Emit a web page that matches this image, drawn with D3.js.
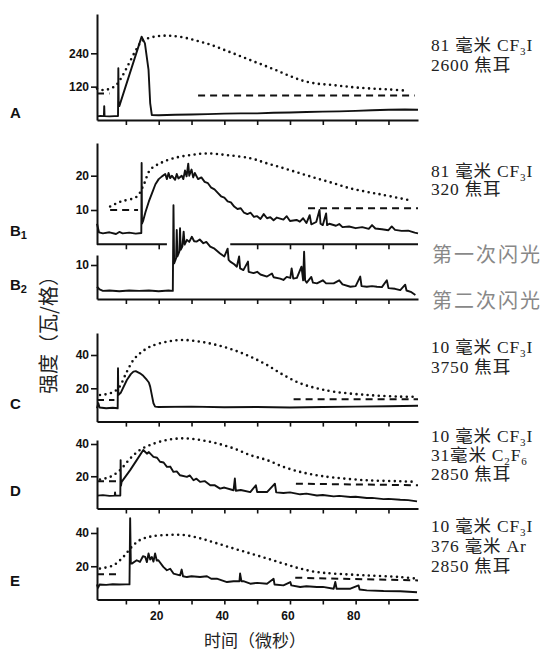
<!DOCTYPE html>
<html>
<head>
<meta charset="utf-8">
<script src="https://cdn.jsdelivr.net/npm/d3@7"></script>
<style>
  body { margin: 0; background: #fff; }
  .tick text { font-family: "Liberation Sans", Arial, sans-serif; font-weight: bold; font-size: 12px; fill: #111; }
</style>
</head>
<body>
<svg id="chart" width="552" height="651"></svg>
<script>
// time axis (microseconds)
var timeTicks = [10, 20, 30, 40, 50, 60, 70, 80, 90];
var timeLabels = [20, 40, 60, 80];

// A : 81 mm CF3I, 2600 J
var aTicks = [120, 240];
var aSolid = [[1.2,14],[1.8,14],[2.2,15],[3.3,14],[3.4,50],[3.5,14],[5,13],[6.5,14],[7.6,14],[7.7,186],[7.8,50],
  [8,50],[14.8,300],[15.8,276],[16.9,180],[17.4,61],[17.9,18],[20,17],[25,19],[30,20],[35,21],[40,23],[45,24],
  [50,24],[55,26],[60,27],[65,29],[70,30],[75,31],[80,33],[85,35],[90,37],[95,38],[99,37]];
var aDotted = [[1.2,113],[3,108],[5,112],[7,125],[9,160],[11,205],[13,250],[15,285],[18,298],[21,303],[24,303],
  [28,296],[32,284],[36,270],[40,252],[44,234],[48,215],[52,197],[56,178],[60,158],[64,141],[68,131],[72,127],
  [76,122],[80,117],[85,113],[90,110],[96,105]];
var aDashed = [[[1.2,95],[5,95]], [[32,88],[98,88]]];

// B1 : 81 mm CF3I, 320 J, first flash
var b1Ticks = [10, 20];
var b1Solid = [[1.2,6],[1.8,3.5],[3,3.2],[5,3.5],[7,3.0],[8,3.6],[9,3.2],[11,3.4],[13,3.1],[14.7,3.3],
  [14.8,23.7],[14.9,6],[15.3,7],[16,9.5],[17,12.5],[18,15],[19,17.5],[20,19],[21,19.8],[22,20.5],[22.5,19],
  [23,20.8],[23.5,19.3],[24,20],[25,18.8],[25.5,20.5],[26,19.2],[27,20],[27.5,19],[28,21.5],[28.5,19.8],
  [29,23.5],[29.3,20],[30,21.8],[30.5,19.5],[31,20.8],[32,19],[33,19.5],[34,18.2],[35,17.8],[36,16.5],
  [37,16],[38,15],[39,14],[40,13.6],[41,12.5],[42,12.2],[43,11],[44,10.3],[45,10.5],[46,9.2],[47,8.8],
  [48,9.2],[49,8],[50,8.2],[51,7.4],[52,8.8],[53,7.6],[54,7.9],[55,7],[56,7.8],[58,7.2],[59,8.2],[60,6.8],
  [62,7.1],[63,6.6],[64,7.6],[65,6.2],[66,8.5],[66.5,5.8],[68,6.5],[69,10],[69.3,6],[70,5.6],[71,9],
  [71.3,5.6],[72,6],[74,5.4],[75,5.9],[76,5],[78,5.2],[80,4.7],[82,5],[84,4.5],[85,5.6],[86,4.6],[88,4.4],
  [90,4.1],[91,5.2],[92,4.2],[94,3.9],[96,4],[98,3.4],[99,3.2]];
var b1Dotted = [[5.2,11],[8.3,12.4],[13.3,13.9],[15.4,17.3],[17.4,21.7],[20.4,23.6],[24.5,25.1],[29.6,26],
  [34.7,26.5],[40.8,26],[47.9,25.1],[53,23.6],[58,22.2],[63.1,20.7],[68.2,19.2],[73.3,17.8],[78.4,16.3],
  [83.4,15.3],[88.5,14.4],[96.1,12.9]];
var b1Dashed = [[[5.2,10],[13.7,10]], [[65.5,10.5],[99,10.5]]];

// B2 : second flash
var b2Ticks = [10];
var b2Solid = [[1.2,3.6],[2,2.8],[3,2.4],[5,2.5],[8,2.3],[11,2.5],[14,2.4],[17,2.5],[20,2.3],[23,2.5],
  [24.3,2.4],[24.5,27.6],[24.7,10.5],[25.3,12],[25.5,20.3],[25.7,12.5],[26.3,14],[26.5,20.8],[26.7,14.5],
  [27.2,15.4],[27.6,19.8],[27.9,16],[28.6,17.4],[29.3,16.8],[30.1,18.3],[30.8,17],[31.6,16.9],[32.5,17.5],
  [33.6,16.4],[34.5,16.8],[35.7,15.4],[37,14.8],[38.7,13.4],[40,12.5],[41,14.8],[41.3,11.5],[41.8,11],
  [43,10.2],[43.8,9.5],[44.5,12.5],[44.8,9],[45.8,8.5],[47.2,11],[47.4,8],[48.9,7.6],[50,8],[51,7.2],
  [53,6.6],[54.5,7.5],[55,6.4],[57,6],[58,5.6],[59,6.5],[60.1,6.2],[60.5,9],[61,6],[62.1,6.2],[63.5,9.5],
  [64,5.5],[64.3,13.9],[64.6,5.5],[65.1,4.8],[66.5,6.5],[67,4.8],[68.2,4.6],[70,5.5],[71,4.6],[73.3,4.6],
  [75,5.5],[76,4.3],[78.4,3.6],[80,3.8],[81.4,6.6],[81.8,3.8],[83.4,3.6],[85,3.8],[86.5,3.6],[88,3.5],
  [89.5,5.5],[90,3.2],[92,3],[93.6,2.6],[95.1,4.2],[95.5,2.5],[97,2],[98.2,1.2]];

// C : 10 mm CF3I, 3750 J
var cTicks = [20, 40];
var cSolid = [[1.2,8],[1.6,11],[2,8.5],[4,8],[6,8.3],[7.5,8],[7.6,32],[7.7,16],[8.5,17.5],[10.3,25],
  [11.5,28.5],[12.3,30],[13,30.3],[14.3,29],[15.3,27.5],[16.4,25],[17,23.5],[17.4,21],[18,15],[18.4,11],
  [18.9,9],[20,8.8],[30,9],[40,8.6],[50,8.8],[60,8.5],[70,8.8],[80,9],[90,9.2],[99,9.5]];
var cDotted = [[2.1,16],[5.2,17],[7.7,20],[10.3,30],[12.3,37],[14.3,41],[17.4,45],[22.5,48],[27.5,49],
  [32.6,48],[37.7,46],[42.8,43],[47.9,39],[53,34],[58,28],[63.1,23],[68.2,20],[73.3,18],[83.4,16],
  [93.6,15],[98.7,15]];
var cDashed = [[[1.2,13],[6.5,13]], [[61.1,13.4],[99,13.4]]];

// D : 10 mm CF3I + 31 mm C2F6, 2850 J
var dTicks = [20, 40];
var dSolid = [[1.2,8],[3,8.3],[5,7.8],[6.6,8],[6.7,10],[6.8,8],[8.3,8.1],[8.4,30],[8.5,14],[8.7,16.5],
  [11.3,23.8],[13.3,30],[15.3,36.3],[16.4,34],[17,35],[18.4,32],[19.5,31.5],[20.4,29],[21.5,28.5],
  [22.5,25.8],[23.5,26],[24.5,22.7],[25.5,23],[26.5,20.6],[28.6,19.6],[29.5,20.5],[30.6,17.5],[31.5,18.5],
  [32.6,16.5],[34,17],[35.7,14.4],[37,14.5],[38.7,12.3],[40,13],[42.8,11.3],[43.2,18.6],[43.5,11],
  [45,11.5],[47.9,10.2],[49.6,14.4],[50,10.2],[53,10.2],[55.4,15.4],[55.8,10],[58,9.6],[60,10],[63.1,8.8],
  [65,9.2],[68.2,8.1],[70,8.4],[73.3,7.5],[75,7.8],[78.4,7.1],[80,7.3],[83.4,6.5],[85,6.6],[88.5,5.8],
  [90,6],[93.6,5.4],[96,5.2],[98.7,4.4]];
var dDotted = [[2.1,18],[5.2,19.6],[8.2,23.8],[11.3,31],[14.3,36.3],[17.4,39.4],[22.5,42.5],[27.5,43.5],
  [32.6,42.5],[37.7,40.4],[42.8,37.3],[47.9,33.1],[53,30],[58,25.8],[63.1,22.7],[68.2,20.6],[73.3,19.2],
  [83.4,17.5],[93.6,16.9],[98.7,16.5]];
var dDashed = [[[1.2,16.9],[7,16.9]], [[61.8,15.4],[99,14.4]]];

// E : 10 mm CF3I + 376 mm Ar, 2850 J
var eTicks = [20, 40];
var eSolid = [[1.2,9.1],[1.5,7],[2,9],[4,8.8],[6,9.2],[8,9],[10,9.1],[11.1,9.1],[11.3,48.9],[11.5,22],
  [11.8,21.6],[13.3,23.6],[14.3,22.6],[15.2,26],[15.9,25.6],[16.4,22.5],[16.9,27.7],[17.4,24],[17.9,25.6],
  [18.4,22.8],[18.9,27.7],[19.4,23.5],[19.9,23.6],[21.4,19.6],[22.5,17.6],[23.5,18.5],[24.5,15.6],
  [26.5,14.5],[27,18],[27.4,14],[28.6,13.5],[30,14],[32.6,13.5],[34.7,14],[36,12.5],[37.7,12.5],
  [40.8,10.5],[42.8,11],[44.6,11],[44.8,15.6],[45.2,11],[45.8,11],[47.9,9.5],[50,10],[53,9.5],[55,12.5],
  [55.3,9],[58,8.5],[60.1,10.5],[60.4,8.5],[63.1,7.5],[65,8],[68.2,7.5],[70,7.6],[73.3,6.5],[73.8,10.5],
  [74.2,6.5],[78.4,6.5],[80.9,8.5],[81.2,6],[83.4,5.5],[88.5,5.1],[93.6,5],[98.7,4.4]];
var eDotted = [[2.1,18.6],[6.2,20.6],[9.2,25.6],[11.8,31.7],[14.3,35.8],[17.4,37.8],[22.5,38.8],
  [27.5,38.8],[32.6,36.8],[37.7,33.8],[42.8,30.7],[47.9,27.7],[53,24.7],[58,21.6],[63.1,18.6],[68.2,16.5],
  [73.3,15.6],[83.4,14.5],[93.6,13.5],[98.7,12.5]];
var eDashed = [[[1.2,15.2],[7.3,15.2]], [[61.6,13.1],[99,11.5]]];

// right-hand captions, {n} = subscript
var capA = ["81 毫米 CF{3}I", "2600 焦耳"];
var capB1 = ["81 毫米 CF{3}I", "320 焦耳"];
var flashLabels = ["第一次闪光", "第二次闪光"];
var capC = ["10 毫米 CF{3}I", "3750 焦耳"];
var capD = ["10 毫米 CF{3}I", "31毫米 C{2}F{6}", "2850 焦耳"];
var capE = ["10 毫米 CF{3}I", "376 毫米 Ar", "2850 焦耳"];

var svg = d3.select("#chart");
var x = d3.scaleLinear().domain([1.2, 99]).range([97, 418]);

var panels = [
  {letter: "A", sub: "", y0: 120, refV: 240, refY: 53.3, top: 14, ticks: aTicks,
   solid: aSolid, dotted: aDotted, dashed: aDashed, letterY: 118},
  {letter: "B", sub: "1", y0: 244.3, refV: 20, refY: 175.7, top: 143, ticks: b1Ticks,
   solid: b1Solid, dotted: b1Dotted, dashed: b1Dashed, letterY: 236, gap: [22.5, 41.8]},
  {letter: "B", sub: "2", y0: 299, refV: 10, refY: 265, top: 255, ticks: b2Ticks,
   solid: b2Solid, dotted: null, dashed: [], letterY: 290},
  {letter: "C", sub: "", y0: 421.6, refV: 40, refY: 355, top: 333, ticks: cTicks,
   solid: cSolid, dotted: cDotted, dashed: cDashed, letterY: 409},
  {letter: "D", sub: "", y0: 508.5, refV: 40, refY: 444, top: 440, ticks: dTicks,
   solid: dSolid, dotted: dDotted, dashed: dDashed, letterY: 496},
  {letter: "E", sub: "", y0: 599.5, refV: 40, refY: 533, top: 527, ticks: eTicks,
   solid: eSolid, dotted: eDotted, dashed: eDashed, letterY: 586}
];

panels.forEach(function(p) {
  var k = (p.y0 - p.refY) / p.refV;
  var y = d3.scaleLinear().domain([0, (p.y0 - p.top) / k]).range([p.y0, p.top]);
  var g = svg.append("g");

  // y axis
  var ya = g.append("g")
      .attr("transform", "translate(" + x(1.2) + ",0)")
      .call(d3.axisLeft(y).tickValues(p.ticks).tickSize(6).tickPadding(2).tickSizeOuter(0));
  ya.select(".domain").attr("stroke", "#111").attr("stroke-width", 2);
  ya.selectAll(".tick line").attr("stroke", "#111").attr("stroke-width", 1.6);

  // time axis
  var xa = g.append("g")
      .attr("transform", "translate(0," + p.y0 + ")")
      .call(d3.axisBottom(x).tickValues(timeTicks).tickSize(5).tickSizeOuter(0).tickFormat(""));
  xa.select(".domain").attr("stroke", "#111").attr("stroke-width", 2);
  xa.selectAll(".tick line").attr("stroke", "#111").attr("stroke-width", 1.6);
  if (p.gap) {
    xa.select(".domain").remove();
    xa.selectAll(".tick").filter(function(d) { return d > p.gap[0] && d < p.gap[1]; }).remove();
    [[1.2, p.gap[0]], [p.gap[1], 99]].forEach(function(s) {
      xa.append("line").attr("x1", x(s[0])).attr("x2", x(s[1]))
        .attr("stroke", "#111").attr("stroke-width", 2);
    });
  }

  var line = d3.line().x(function(d) { return x(d[0]); }).y(function(d) { return y(d[1]); });

  if (p.dotted) {
    g.append("path")
      .attr("d", line.curve(d3.curveCatmullRom)(p.dotted))
      .attr("fill", "none").attr("stroke", "#111").attr("stroke-width", 2.6)
      .attr("stroke-linecap", "round").attr("stroke-dasharray", "0 5.6");
  }
  line.curve(d3.curveLinear);
  p.dashed.forEach(function(seg) {
    g.append("path").attr("d", line(seg))
      .attr("fill", "none").attr("stroke", "#111").attr("stroke-width", 2)
      .attr("stroke-dasharray", "7 5");
  });
  g.append("path")
    .attr("d", line(p.solid))
    .attr("fill", "none").attr("stroke", "#111").attr("stroke-width", 1.9)
    .attr("stroke-linejoin", "round");

  // panel letter
  var lt = g.append("text").attr("x", 10).attr("y", p.letterY)
    .style("font-family", "Liberation Sans, Arial, sans-serif").style("font-weight", "bold")
    .style("font-size", "15px").attr("fill", "#111").text(p.letter);
  if (p.sub) lt.append("tspan").attr("dy", 3).style("font-size", "11px").text(p.sub);
});

// time labels under E
svg.append("g").selectAll("text").data(timeLabels).enter().append("text")
  .attr("x", function(d) { return x(d) - 2; }).attr("y", 620)
  .attr("text-anchor", "middle")
  .style("font-family", "Liberation Sans, Arial, sans-serif").style("font-weight", "bold")
  .style("font-size", "12px").attr("fill", "#111")
  .text(function(d) { return d; });

svg.append("text").attr("x", 255).attr("y", 647).attr("text-anchor", "middle")
  .style("font-family", "Noto Sans CJK SC, sans-serif").style("font-size", "17px").attr("fill", "#222")
  .text("时间（微秒）");

svg.append("text").attr("transform", "translate(47,330) rotate(-90)")
  .attr("text-anchor", "middle").attr("dominant-baseline", "central")
  .style("font-family", "Noto Sans CJK SC, sans-serif").style("font-size", "20px").attr("fill", "#222")
  .text("强度（瓦/格）");

// captions
function caption(lines, ys) {
  lines.forEach(function(s, i) {
    var t = svg.append("text").attr("x", 431).attr("y", ys[i])
      .style("font-family", "Liberation Serif, Noto Sans CJK SC, serif").style("font-size", "17.5px")
      .style("letter-spacing", "0.8px").attr("fill", "#222");
    var shift = 0;
    s.split(/(\{\d\})/).forEach(function(part) {
      if (!part) return;
      var m = part.match(/^\{(\d)\}$/);
      if (m) {
        t.append("tspan").attr("dy", 4 - shift).style("font-size", "11px").text(m[1]);
        shift = 4;
      } else {
        t.append("tspan").attr("dy", -shift).text(part);
        shift = 0;
      }
    });
  });
}
caption(capA, [51, 71]);
caption(capB1, [177, 195]);
caption(capC, [353, 373]);
caption(capD, [442, 461, 480]);
caption(capE, [532, 552, 572]);

svg.append("g").selectAll("text").data(flashLabels).enter().append("text")
  .attr("x", 432).attr("y", function(d, i) { return i ? 308 : 262; })
  .style("font-family", "Noto Sans CJK SC, sans-serif").style("font-size", "20px")
  .style("letter-spacing", "2px").attr("fill", "#888")
  .text(function(d) { return d; });
</script>
</body>
</html>
